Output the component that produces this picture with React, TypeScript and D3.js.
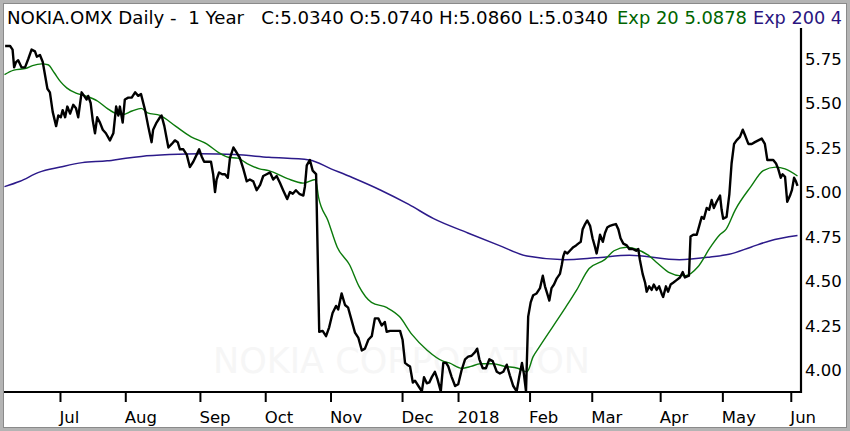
import React from 'react';
import * as d3 from 'd3';

// Trading-day index (0 = first day shown) and close price
const closeSeries: [number, number][] = [
  [0.2,5.82],[1.8,5.82],[2.6,5.80],[3.1,5.70],[3.7,5.73],[4.4,5.74],[5.5,5.70],[6.6,5.70],[7.7,5.75],[8.7,5.80],
  [9.8,5.79],[10.4,5.76],[11.4,5.77],[12.3,5.73],[13.0,5.66],[13.8,5.58],[14.6,5.56],[15.5,5.45],[16.6,5.37],[17.3,5.43],
  [18.1,5.42],[18.7,5.46],[19.5,5.42],[20.2,5.48],[21.1,5.44],[22.1,5.49],[23.0,5.47],[23.7,5.42],[24.8,5.56],[25.6,5.54],
  [26.4,5.52],[26.9,5.54],[27.7,5.50],[28.4,5.40],[29.1,5.33],[29.8,5.42],[30.7,5.39],[31.6,5.35],[32.6,5.33],[33.9,5.29],
  [35.0,5.33],[35.9,5.48],[36.6,5.43],[37.1,5.48],[38.0,5.39],[38.7,5.52],[39.8,5.53],[40.9,5.53],[42.0,5.56],[43.0,5.54],
  [43.9,5.55],[45.2,5.46],[46.2,5.37],[47.3,5.28],[47.8,5.35],[48.9,5.39],[50.0,5.42],[50.5,5.43],[51.4,5.37],[52.7,5.25],
  [53.8,5.27],[54.8,5.29],[55.7,5.28],[56.4,5.24],[57.5,5.24],[58.6,5.21],[59.6,5.14],[60.7,5.17],[61.8,5.21],[62.6,5.24],
  [63.4,5.20],[64.2,5.17],[65.3,5.17],[66.4,5.17],[67.1,5.10],[67.7,5.00],[68.2,5.07],[69.0,5.11],[70.0,5.10],[70.9,5.10],
  [71.8,5.08],[72.5,5.19],[73.6,5.25],[74.7,5.22],[75.7,5.19],[76.8,5.13],[77.9,5.06],[78.9,5.07],[80.0,5.06],[81.1,5.01],
  [82.2,5.04],[83.2,5.09],[84.3,5.10],[85.4,5.11],[86.4,5.07],[87.5,5.09],[88.6,5.05],[89.6,5.01],[90.9,4.96],[91.8,5.00],
  [92.7,4.99],[93.7,5.01],[94.8,4.99],[96.1,4.98],[96.6,5.03],[97.2,5.15],[98.2,5.18],[99.1,5.12],[100.2,5.10],[101.2,4.215],
  [102.3,4.22],[103.4,4.19],[104.4,4.24],[105.5,4.32],[106.6,4.36],[107.3,4.34],[108.4,4.43],[109.5,4.365],[110.5,4.35],[111.6,4.28],
  [112.7,4.21],[113.8,4.18],[114.9,4.11],[115.9,4.12],[117.0,4.17],[118.1,4.19],[119.1,4.29],[120.2,4.29],[121.3,4.25],[122.3,4.27],
  [122.9,4.215],[124.0,4.22],[125.6,4.22],[127.2,4.22],[128.0,4.17],[128.8,4.04],[129.5,4.03],[130.4,4.02],[131.3,3.93],[132.0,3.94],
  [133.1,3.91],[134.2,3.88],[134.9,3.96],[135.8,3.925],[136.6,3.93],[137.4,3.96],[138.4,3.99],[139.2,3.95],[140.3,3.88],[141.1,4.04],
  [142.0,4.04],[142.7,4.02],[143.8,3.96],[144.9,3.91],[145.9,3.92],[147.0,4.00],[148.1,4.06],[149.1,4.075],[150.2,4.08],[151.3,4.10],
  [152.0,4.12],[152.7,4.06],[153.8,4.01],[154.8,4.01],[155.9,4.06],[157.0,4.05],[158.3,3.99],[159.3,3.98],[160.4,3.99],[161.5,4.03],
  [162.5,3.97],[163.6,3.91],[164.7,3.88],[165.5,3.96],[166.4,4.04],[167.0,3.98],[167.7,3.88],[168.4,4.30],[169.2,4.38],[170.0,4.42],
  [171.1,4.43],[172.2,4.46],[173.1,4.53],[173.8,4.47],[174.5,4.43],[175.2,4.39],[175.9,4.46],[176.7,4.48],[177.6,4.515],[178.6,4.54],
  [179.2,4.59],[179.7,4.64],[180.2,4.665],[181.0,4.655],[181.8,4.67],[182.9,4.69],[183.8,4.70],[184.5,4.71],[185.3,4.72],[185.9,4.79],
  [186.7,4.82],[187.4,4.84],[188.3,4.81],[189.1,4.74],[189.9,4.69],[190.4,4.655],[190.9,4.70],[191.5,4.76],[192.4,4.72],[193.1,4.77],
  [193.8,4.80],[194.7,4.81],[195.6,4.815],[196.6,4.82],[197.4,4.79],[198.1,4.74],[199.0,4.71],[200.1,4.70],[200.9,4.68],[202.0,4.68],
  [203.1,4.67],[203.8,4.68],[204.3,4.62],[205.2,4.54],[206.0,4.49],[206.5,4.44],[207.3,4.47],[208.1,4.45],[208.8,4.48],[209.7,4.45],
  [210.5,4.47],[211.3,4.43],[211.8,4.41],[212.7,4.47],[213.4,4.44],[214.2,4.48],[215.0,4.49],[216.1,4.505],[217.2,4.52],[218.1,4.55],
  [218.8,4.52],[220.1,4.53],[220.6,4.75],[221.5,4.76],[222.6,4.76],[223.4,4.81],[224.2,4.86],[224.9,4.85],[225.8,4.91],[226.6,4.90],
  [227.4,4.955],[228.1,4.91],[229.0,4.945],[230.1,4.98],[230.6,4.90],[231.1,4.85],[232.2,4.86],[233.1,4.99],[233.8,5.16],[234.6,5.27],
  [235.4,5.29],[236.5,5.31],[237.4,5.35],[238.1,5.32],[239.2,5.27],[240.3,5.27],[241.3,5.28],[242.4,5.29],[243.5,5.30],[244.5,5.27],
  [245.3,5.18],[246.1,5.18],[247.2,5.18],[248.1,5.16],[248.8,5.13],[249.6,5.08],[250.2,5.10],[251.0,5.085],[251.7,4.945],[252.6,4.98],
  [253.2,5.01],[253.9,5.08],[254.5,5.06],[255.0,5.034],
];

const ema20Series: [number, number][] = [
  [0,5.66],[3,5.685],[7,5.695],[9,5.71],[12,5.72],[14,5.715],[16,5.67],[18,5.62],[20,5.585],[23,5.555],
  [26,5.54],[30,5.51],[33,5.47],[36,5.44],[38,5.435],[41,5.455],[44,5.47],[46,5.445],[50,5.43],[55,5.37],
  [60,5.31],[65,5.27],[69,5.22],[72,5.195],[75,5.19],[78,5.16],[82,5.13],[85,5.12],[91,5.075],[96,5.05],
  [100,5.07],[101,4.97],[104,4.84],[107,4.69],[111,4.59],[114,4.47],[118,4.38],[123,4.35],[127,4.30],[131,4.20],
  [136,4.11],[141,4.05],[143,4.04],[147,4.01],[150,4.02],[153,4.035],[157,4.035],[161,4.02],[165,4.01],[168,3.99],
  [170,4.075],[172,4.13],[180,4.34],[184,4.45],[188,4.57],[193,4.62],[196,4.67],[200,4.69],[203,4.68],[207,4.645],
  [210,4.60],[214,4.545],[217,4.53],[219,4.53],[223,4.58],[227,4.69],[230,4.76],[232,4.79],[235,4.90],[240,5.03],
  [244,5.12],[248,5.14],[251,5.13],[255,5.09],
];

const ema200Series: [number, number][] = [
  [0,5.03],[5,5.06],[11,5.11],[18,5.14],[25,5.165],[33,5.175],[39,5.19],[44,5.20],[53,5.21],[63,5.215],
  [74,5.21],[85,5.195],[98,5.18],[105,5.13],[112,5.08],[121,5.01],[130,4.93],[138,4.85],[149,4.77],[159,4.70],
  [168,4.64],[180,4.62],[190,4.63],[201,4.645],[217,4.62],[227,4.635],[233,4.65],[240,4.69],[246,4.725],[255,4.755],
];

const monthLabels = ['Jul','Aug','Sep','Oct','Nov','Dec','2018','Feb','Mar','Apr','May','Jun'];
const monthStartDay = [18,39,63,84,105,128,146,169,189,211,231,253];
const priceTicks = [4.0,4.25,4.5,4.75,5.0,5.25,5.5,5.75];

const titleMain = 'NOKIA.OMX Daily -  1 Year   C:5.0340 O:5.0740 H:5.0860 L:5.0340';
const titleEma20 = 'Exp 20 5.0878';
const titleEma200 = 'Exp 200 4';

const W = 850, H = 431;
const plot = { left: 3, top: 28, right: 801, bottom: 392 };
const GREEN = '#0b7a0b';
const PURPLE = '#2c1a8a';
const FONT = '"DejaVu Sans", Verdana, sans-serif';

export default function App() {
  const x = d3.scaleLinear().domain([0, 255]).range([4.5, 797.5]);
  const y = d3.scaleLinear().domain([4, 5.75]).range([370, 58.5]);
  const priceLine = d3.line<[number, number]>().x(d => x(d[0])).y(d => y(d[1]));
  const smoothLine = d3.line<[number, number]>().x(d => x(d[0])).y(d => y(d[1])).curve(d3.curveMonotoneX);

  return (
    <svg width={W} height={H} style={{ position: 'absolute', left: 0, top: 0, background: '#fff' }}>
      <defs>
        <clipPath id="plotClip">
          <rect x={plot.left} y={plot.top} width={plot.right - plot.left} height={plot.bottom - plot.top} />
        </clipPath>
      </defs>
      <rect x={0} y={0} width={W} height={H} fill="#fff" />
      {/* title */}
      <text x={7} y={23.5} fontFamily={FONT} fontSize={17} fill="#000" textLength={601} lengthAdjust="spacingAndGlyphs" style={{ whiteSpace: 'pre' }}>{titleMain}</text>
      <text x={617} y={23.5} fontFamily={FONT} fontSize={17} fill="#006400" textLength={130} lengthAdjust="spacingAndGlyphs" style={{ whiteSpace: 'pre' }}>{titleEma20}</text>
      <text x={753} y={23.5} fontFamily={FONT} fontSize={17} fill="#2a1580" textLength={89} lengthAdjust="spacingAndGlyphs" style={{ whiteSpace: 'pre' }}>{titleEma200}</text>
      {/* watermark */}
      <text x={213} y={373} fontFamily={FONT} fontSize={36} fill="#f6f6f6" textLength={377} lengthAdjust="spacingAndGlyphs">NOKIA CORPORATION</text>
      <g clipPath="url(#plotClip)">
        <path d={smoothLine(ema200Series) || ''} fill="none" stroke={PURPLE} strokeWidth={1.5} />
        <path d={smoothLine(ema20Series) || ''} fill="none" stroke={GREEN} strokeWidth={1.4} />
        <path d={priceLine(closeSeries) || ''} fill="none" stroke="#000" strokeWidth={2.4} strokeLinejoin="round" />
      </g>
      {/* axes */}
      <line x1={plot.left} x2={plot.right + 1} y1={plot.bottom} y2={plot.bottom} stroke="#000" strokeWidth={2.2} />
      <line x1={plot.right} x2={plot.right} y1={plot.top} y2={plot.bottom + 1} stroke="#000" strokeWidth={2.2} />
      {monthStartDay.map((d, i) => (
        <g key={monthLabels[i]}>
          <line x1={x(d)} x2={x(d)} y1={plot.bottom} y2={plot.bottom + 10} stroke="#000" strokeWidth={2} />
          <text x={x(d) - 1} y={423} fontFamily={FONT} fontSize={16.5} fill="#000">{monthLabels[i]}</text>
        </g>
      ))}
      {priceTicks.map(v => (
        <text key={v} x={805} y={y(v) + 6} fontFamily={FONT} fontSize={16.5} fill="#000">{v.toFixed(2)}</text>
      ))}
      {/* frame */}
      <rect x={1.5} y={1.5} width={W - 3} height={H - 3} fill="none" stroke="#b4b4b4" strokeWidth={3} />
      <rect x={3.5} y={3.5} width={W - 7} height={H - 7} fill="none" stroke="#8a8a8a" strokeWidth={1} />
    </svg>
  );
}
